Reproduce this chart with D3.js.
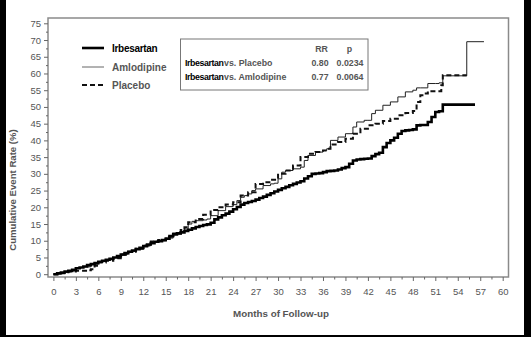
<!DOCTYPE html>
<html><head><meta charset="utf-8">
<script src="https://cdn.jsdelivr.net/npm/d3@7"></script>
<style>
html,body{margin:0;padding:0;background:#000;}
svg{display:block;}
text{font-family:"Liberation Sans",Arial,Helvetica,sans-serif;}
</style></head>
<body>
<svg id="c" width="531" height="337"></svg>
<script>
const xTickLabels = [0,3,6,9,12,15,18,21,24,27,30,33,36,39,42,45,48,51,54,57,60];
const yTickLabels = [0,5,10,15,20,25,30,35,40,45,50,55,60,65,70,75];
const seriesNames = ["Irbesartan","Amlodipine","Placebo"];
const statsRows = [["Irbesartan","vs. Placebo","0.80","0.0234"],["Irbesartan","vs. Amlodipine","0.77","0.0064"]];

const irbesartan = [[0,0],[0.5,0.3],[1,0.5],[1.5,0.8],[2,1.0],[2.5,1.3],[3,1.8],[3.5,2.0],[4,2.3],[4.5,2.7],[5,3.0],[5.5,3.3],[6,3.7],[6.5,4.0],[7,4.3],[7.5,4.6],[8,5.0],[8.5,5.4],[9,5.9],[9.5,6.3],[10,6.7],[10.5,7.1],[11,7.5],[11.5,7.9],[12,8.4],[12.5,8.9],[13,9.3],[13.5,9.7],[14,9.9],[14.5,10.2],[15,10.6],[15.5,11.4],[16,11.9],[16.5,12.2],[17,12.5],[17.5,12.9],[18,13.3],[18.5,13.7],[19,14.1],[19.5,14.4],[20,14.7],[20.5,14.9],[21,15.4],[21.5,16.4],[22,17.0],[22.5,17.6],[23,18.1],[23.5,18.7],[24,19.4],[24.5,20.1],[25,20.8],[25.5,21.3],[26,21.6],[26.5,21.9],[27,22.3],[27.5,22.8],[28,23.2],[28.5,23.7],[29,24.2],[29.5,24.7],[30,25.2],[30.5,25.7],[31,26.1],[31.5,26.6],[32,27.0],[32.5,27.4],[33,27.8],[33.5,28.6],[34,29.3],[34.5,30.0],[35,30.1],[35.5,30.2],[36,30.5],[36.5,30.8],[37,30.9],[37.5,31.0],[38,31.3],[38.5,31.7],[39,32.0],[39.5,33.0],[40,34.0],[40.5,34.3],[41,34.4],[41.5,34.5],[42,34.6],[42.5,35.3],[43,35.9],[43.5,36.3],[44,38.0],[44.5,39.2],[45,40.0],[45.5,40.8],[46,42.0],[46.5,42.8],[47,43.0],[47.5,43.1],[48,43.3],[48.5,44.5],[49,44.6],[49.5,44.6],[50,45.5],[50.5,47.0],[51,48.5],[51.5,48.7],[52,50.7],[56.3,50.7]];

const amlodipine = [[0,0],[1,0.5],[2,1.0],[3,2.0],[4,2.2],[5,3.0],[6,3.8],[7,4.3],[8,5.0],[9,6.0],[10,6.8],[11,7.5],[12,8.5],[13,9.5],[14,10.0],[15,10.8],[16,12.0],[17,12.8],[17.5,13.5],[18,15.0],[18.5,15.8],[19,16.0],[20,16.2],[20.5,16.5],[21,17.5],[22,19.0],[23,20.2],[24,20.8],[24.5,22.0],[25,23.0],[25.5,23.5],[26,24.0],[26.5,25.0],[27,25.5],[28,26.5],[29,27.0],[29.5,27.2],[30,28.5],[30.5,30.5],[31,31.0],[32,31.5],[33,32.0],[33.5,34.0],[34,35.5],[35,36.5],[36,37.0],[36.5,37.5],[37,40.0],[38,41.0],[39,42.0],[40,44.0],[40.5,45.5],[41.5,46.0],[42,46.0],[42.5,48.0],[43,49.0],[44,50.5],[45,51.5],[46,53.0],[47,54.5],[48,55.0],[48.5,55.7],[49,55.7],[50,57.0],[51,57.0],[51.5,57.2],[52,59.3],[55.2,69.5],[57.5,69.5]];

const placebo = [[0,0],[1,0.3],[2,0.8],[3,1.0],[4,1.0],[4.5,1.2],[5,1.5],[5.5,2.5],[6,3.5],[7,4.0],[8,4.8],[9,5.8],[10,6.7],[11,7.6],[12,8.6],[13,9.8],[14,10.2],[15,11.2],[16,12.2],[17,13.2],[17.5,14.0],[18,15.5],[19,16.5],[20,17.8],[21,19.2],[22,20.0],[23,20.8],[24,21.5],[25,23.5],[26,24.5],[27,27.0],[28,27.5],[29,28.2],[30,30.0],[31,31.0],[32,32.5],[33,35.0],[34,36.0],[35,36.5],[36,37.0],[36.5,37.5],[37,38.8],[38,39.5],[39,40.5],[40,42.0],[41,43.5],[42,44.5],[43,45.0],[44,45.8],[45,46.5],[46,47.5],[47,48.2],[48,48.8],[48.5,51.5],[49,53.5],[49.5,54.0],[50,54.7],[51.5,54.7],[51.8,56.5],[52,59.5],[55.2,59.5]];

const svg = d3.select("#c");
svg.append("rect").attr("x",6).attr("y",0).attr("width",518).attr("height",335).attr("fill","#fff");

const x = d3.scaleLinear().domain([0,60]).range([53.4,502.7]);
const y = d3.scaleLinear().domain([0,75]).range([274.2,23.3]);
const frame = {l:48, r:508.5, t:18, b:277};
const gray = "#555";

// frame
svg.append("rect").attr("x",frame.l).attr("y",frame.t).attr("width",frame.r-frame.l).attr("height",frame.b-frame.t)
  .attr("fill","none").attr("stroke","#8a8a8a").attr("stroke-width",1.5);

// y axis
const minorY = d3.range(2.5,75,5);
const yAx = svg.append("g").attr("transform",`translate(${frame.l},0)`)
  .call(d3.axisLeft(y).tickValues(yTickLabels).tickSize(4).tickPadding(3).tickFormat(d3.format("d")));
yAx.select(".domain").remove();
yAx.selectAll("line").attr("stroke","#666").attr("stroke-width",1);
yAx.selectAll("text").attr("fill",gray).attr("font-size",9.5).attr("font-family","Liberation Sans, Arial, sans-serif");
svg.append("g").attr("transform",`translate(${frame.l},0)`)
  .call(d3.axisLeft(y).tickValues(minorY).tickSize(2).tickFormat(""))
  .call(g=>g.select(".domain").remove()).selectAll("line").attr("stroke","#666");

// x axis
const minorX = d3.range(1.5,60,3);
const xAx = svg.append("g").attr("transform",`translate(0,${frame.b})`)
  .call(d3.axisBottom(x).tickValues(xTickLabels).tickSize(4).tickPadding(7).tickFormat(d3.format("d")));
xAx.select(".domain").remove();
xAx.selectAll("line").attr("stroke","#666").attr("stroke-width",1);
xAx.selectAll("text").attr("fill",gray).attr("font-size",9.5).attr("font-family","Liberation Sans, Arial, sans-serif");
svg.append("g").attr("transform",`translate(0,${frame.b})`)
  .call(d3.axisBottom(x).tickValues(minorX).tickSize(2.5).tickFormat(""))
  .call(g=>g.select(".domain").remove()).selectAll("line").attr("stroke","#666");

// axis titles
svg.append("text").attr("x",281).attr("y",316.5).attr("text-anchor","middle").attr("font-size",9.8)
  .attr("font-weight","bold").attr("fill",gray).text("Months of Follow-up");
svg.append("text").attr("transform","translate(15.5,190) rotate(-90)").attr("text-anchor","middle").attr("font-size",9.6)
  .attr("font-weight","bold").attr("fill",gray).text("Cumulative Event Rate (%)");

// lines
const line = d3.line().x(d=>x(d[0])).y(d=>y(d[1])).curve(d3.curveStepAfter);
const styles = [
  {data:irbesartan, w:2.6, color:"#000", dash:null},
  {data:amlodipine, w:1, color:"#222", dash:null},
  {data:placebo, w:2, color:"#111", dash:"5,3"}
];
[1,2,0].forEach(i=>{
  const s = styles[i];
  svg.append("path").datum(s.data).attr("d",line).attr("fill","none")
    .attr("stroke",s.color).attr("stroke-width",s.w).attr("stroke-dasharray",s.dash);
});

// legend
const legY = [48,67,85];
seriesNames.forEach((n,i)=>{
  const s = styles[i];
  svg.append("line").attr("x1",82).attr("x2",104).attr("y1",legY[i]).attr("y2",legY[i])
    .attr("stroke", i===1?"#666":s.color).attr("stroke-width",s.w).attr("stroke-dasharray",s.dash);
  svg.append("text").attr("x",112).attr("y",legY[i]+3.5).attr("font-size",10).attr("font-weight","bold")
    .attr("fill", i===0?"#000":gray).attr("letter-spacing", i===0?"-0.3":"0").text(n);
});

// stats box
svg.append("rect").attr("x",180.5).attr("y",39).attr("width",187.5).attr("height",51)
  .attr("fill","#fff").attr("stroke","#777").attr("stroke-width",1);
svg.append("text").attr("x",321.5).attr("y",52).attr("text-anchor","middle").attr("font-size",8.8).attr("font-weight","bold").attr("fill",gray).text("RR");
svg.append("text").attr("x",349.5).attr("y",52).attr("text-anchor","middle").attr("font-size",8.8).attr("font-weight","bold").attr("fill",gray).text("p");
statsRows.forEach((r,i)=>{
  const yy = 65.5 + i*14;
  const t = svg.append("text").attr("x",185).attr("y",yy).attr("font-size",8.8).attr("font-weight","bold");
  t.append("tspan").attr("fill","#000").attr("letter-spacing","-0.4").text(r[0]);
  t.append("tspan").attr("fill",gray).attr("dx",0.5).text(r[1]);
  svg.append("text").attr("x",320).attr("y",yy).attr("text-anchor","middle").attr("font-size",8.8).attr("font-weight","bold").attr("fill",gray).text(r[2]);
  svg.append("text").attr("x",350).attr("y",yy).attr("text-anchor","middle").attr("font-size",8.8).attr("font-weight","bold").attr("fill",gray).text(r[3]);
});
</script>
</body></html>
